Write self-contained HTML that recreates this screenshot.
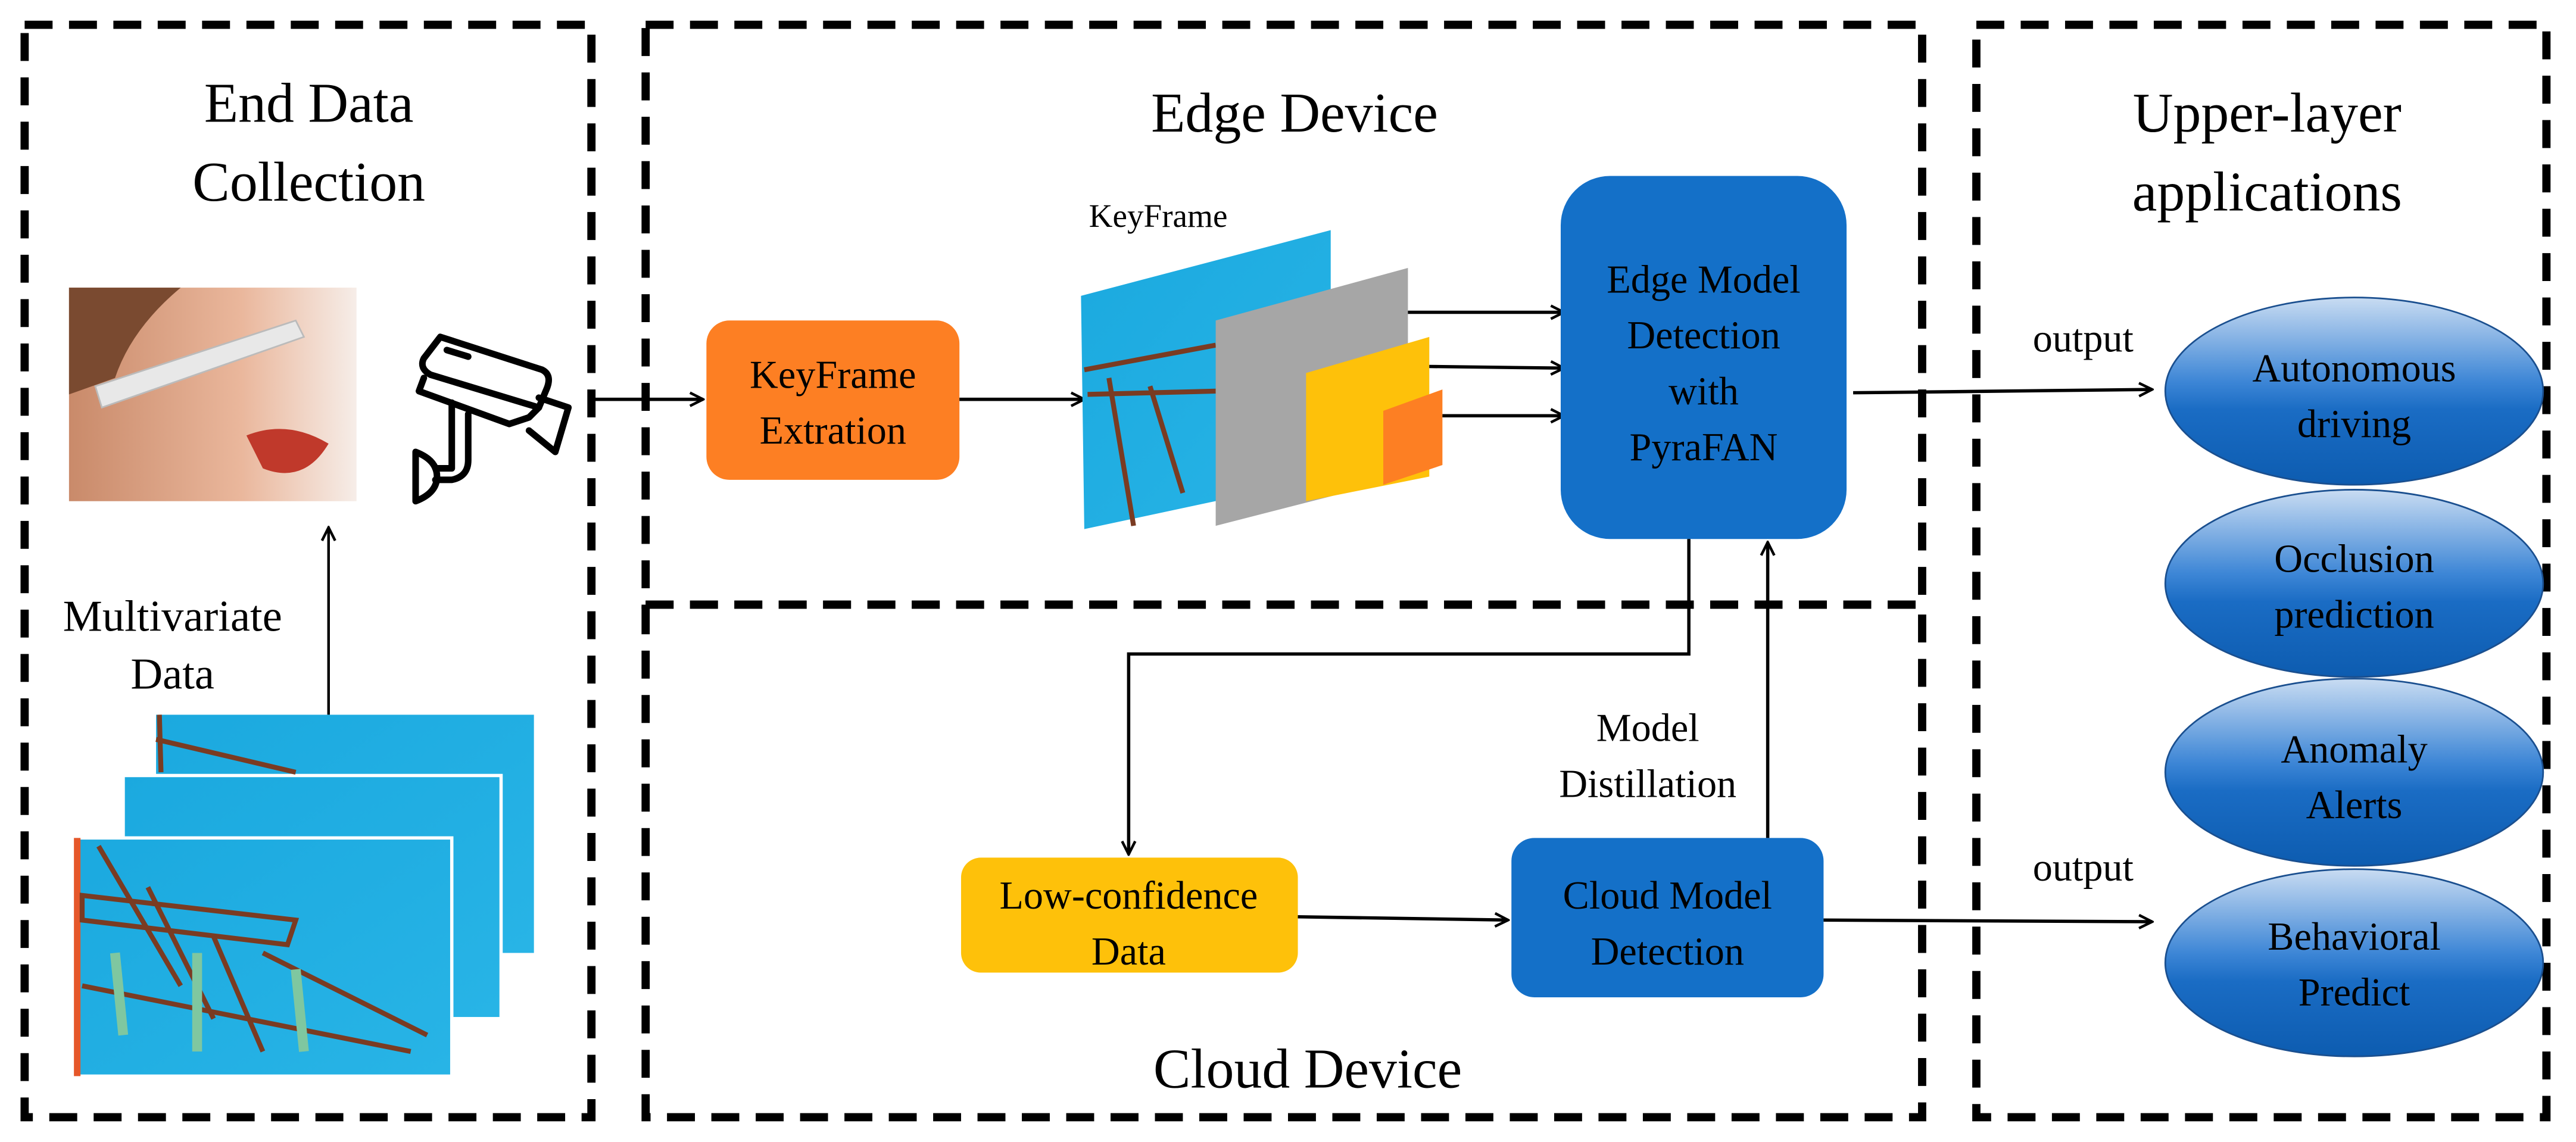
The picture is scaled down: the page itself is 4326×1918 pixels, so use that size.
<!DOCTYPE html>
<html><head><style>html,body{margin:0;padding:0;background:#fff}svg{display:block}svg text{font-family:"Liberation Serif","DejaVu Serif","Noto Serif CJK SC",serif}</style></head>
<body>
<svg width="4326" height="1918" viewBox="0 0 1568 695" xmlns="http://www.w3.org/2000/svg">
<defs>
<marker id="a" markerWidth="10" markerHeight="10" refX="9" refY="5" orient="auto" markerUnits="userSpaceOnUse"><path d="M1,1 L9,5 L1,9" fill="none" stroke="#000" stroke-width="1.6"/></marker>
<linearGradient id="g" x1="0" y1="0" x2="0" y2="1"><stop offset="0" stop-color="#c9dcf2"/><stop offset="0.45" stop-color="#3d86d6"/><stop offset="0.6" stop-color="#1a6cc4"/><stop offset="1" stop-color="#0d5cb0"/></linearGradient>
<linearGradient id="sky" x1="0" y1="0" x2="1" y2="1"><stop offset="0" stop-color="#1ba9df"/><stop offset="1" stop-color="#28b4e6"/></linearGradient>
<linearGradient id="skin" x1="0" y1="0" x2="1" y2="0"><stop offset="0" stop-color="#c98a6a"/><stop offset="0.6" stop-color="#eab79c"/><stop offset="1" stop-color="#f6ede8"/></linearGradient>
</defs>
<g fill="none" stroke="#000" stroke-width="5" stroke-dasharray="17,10">
<rect x="15" y="15" width="345" height="665"/>
<rect x="393" y="15" width="777" height="353"/>
<rect x="393" y="368" width="777" height="312"/>
<rect x="1203" y="15" width="347" height="665"/>
</g>
<g font-size="34" text-anchor="middle" fill="#000">
<text x="188" y="74">End Data</text><text x="188" y="122">Collection</text>
<text x="788" y="80">Edge Device</text>
<text x="1380" y="80">Upper-layer</text><text x="1380" y="128">applications</text>
<text x="796" y="662">Cloud Device</text>
</g>
<rect x="42" y="175" width="175" height="130" fill="url(#skin)"/>
<path d="M42,175 L110,175 Q80,200 70,230 L42,240Z" fill="#7a4a30"/>
<path d="M58,235 L180,195 L185,205 L62,248Z" fill="#e8e8e8" stroke="#bbb"/>
<path d="M150,265 Q175,255 200,270 Q185,295 160,285Z" fill="#c0392b"/>
<g fill="none" stroke="#000" stroke-width="4" stroke-linejoin="round" stroke-linecap="round">
<path d="M268,205 L330,225 Q336,228 333,236 L328,248 L262,228 Q255,224 258,218Z"/>
<path d="M258,230 L255,238 L310,258 L322,254 L328,248"/>
<path d="M328,242 L346,248 L338,275 L322,262"/>
<path d="M275,245 L275,285 L265,285"/>
<path d="M285,252 L285,280 Q285,290 275,292 L265,292"/>
<path d="M253,275 L253,305 Q266,300 266,290 Q266,280 253,275Z"/>
<path d="M272,213 L285,217"/>
</g>
<line x1="200" y1="435" x2="200" y2="321" stroke="#000" stroke-width="1.6" marker-end="url(#a)"/>
<g font-size="27" text-anchor="middle"><text x="105" y="384">Multivariate</text><text x="105" y="419">Data</text></g>
<g>
<rect x="95" y="435" width="230" height="145" fill="url(#sky)"/>
<rect x="75" y="472" width="230" height="148" fill="url(#sky)" stroke="#fff" stroke-width="2"/>
<rect x="45" y="510" width="230" height="145" fill="url(#sky)" stroke="#fff" stroke-width="2"/>
<rect x="45" y="510" width="4" height="145" fill="#e5572a"/>
<path d="M50,545 L180,560 L175,575 L50,560Z M60,515 L110,600 M90,540 L130,620 M130,570 L160,640 M160,580 L260,630 M50,600 L250,640" stroke="#7a3b22" stroke-width="3" fill="none"/>
<path d="M70,580 L75,630 M120,580 L120,640 M180,590 L185,640" stroke="#7fc7a0" stroke-width="6"/>
<path d="M95,450 L180,470 M97,435 L98,470" stroke="#7a3b22" stroke-width="3"/>
</g>
<line x1="360" y1="243" x2="428" y2="243" stroke="#000" stroke-width="2" marker-end="url(#a)"/>
<rect x="430" y="195" width="154" height="97" rx="14" fill="#fd7f23"/>
<g font-size="24" text-anchor="middle"><text x="507" y="236">KeyFrame</text><text x="507" y="270">Extration</text></g>
<line x1="584" y1="243" x2="660" y2="243" stroke="#000" stroke-width="2" marker-end="url(#a)"/>
<text x="705" y="138" font-size="20" text-anchor="middle">KeyFrame</text>
<polygon points="658,180 810,140 810,290 660,322" fill="url(#sky)"/>
<path d="M660,225 L740,210 M662,240 L740,238 M675,230 L690,320 M700,235 L720,300" stroke="#7a3b22" stroke-width="3"/>
<polygon points="740,195 857,163 857,290 740,320" fill="#a6a6a6"/>
<polygon points="795,227 870,205 870,290 795,305" fill="#fec10a"/>
<polygon points="842,250 878,237 878,283 842,295" fill="#fd7f23"/>
<g stroke="#000" stroke-width="2">
<line x1="857" y1="190" x2="952" y2="190" marker-end="url(#a)"/>
<line x1="870" y1="223" x2="952" y2="224" marker-end="url(#a)"/>
<line x1="878" y1="253" x2="952" y2="253" marker-end="url(#a)"/>
</g>
<rect x="950" y="107" width="174" height="221" rx="30" fill="#1470c8"/>
<g font-size="24" text-anchor="middle"><text x="1037" y="178">Edge Model</text><text x="1037" y="212">Detection</text><text x="1037" y="246">with</text><text x="1037" y="280">PyraFAN</text></g>
<line x1="1128" y1="239" x2="1310" y2="237" stroke="#000" stroke-width="2" marker-end="url(#a)"/>
<text x="1268" y="214" font-size="24" text-anchor="middle">output</text>
<path d="M1028,328 L1028,398 L687,398 L687,520" fill="none" stroke="#000" stroke-width="2" marker-end="url(#a)"/>
<line x1="1076" y1="510" x2="1076" y2="330" stroke="#000" stroke-width="2" marker-end="url(#a)"/>
<g font-size="24" text-anchor="middle"><text x="1003" y="451">Model</text><text x="1003" y="485">Distillation</text></g>
<rect x="585" y="522" width="205" height="70" rx="12" fill="#fec10a"/>
<g font-size="24" text-anchor="middle"><text x="687" y="553">Low-confidence</text><text x="687" y="587">Data</text></g>
<line x1="790" y1="558" x2="918" y2="560" stroke="#000" stroke-width="2" marker-end="url(#a)"/>
<rect x="920" y="510" width="190" height="97" rx="14" fill="#1470c8"/>
<g font-size="24" text-anchor="middle"><text x="1015" y="553">Cloud Model</text><text x="1015" y="587">Detection</text></g>
<line x1="1110" y1="560" x2="1310" y2="561" stroke="#000" stroke-width="2" marker-end="url(#a)"/>
<text x="1268" y="536" font-size="24" text-anchor="middle">output</text>
<g stroke="#1a4f8f" stroke-width="1" fill="url(#g)">
<ellipse cx="1433" cy="238" rx="115" ry="57"/>
<ellipse cx="1433" cy="355" rx="115" ry="57"/>
<ellipse cx="1433" cy="470" rx="115" ry="57"/>
<ellipse cx="1433" cy="586" rx="115" ry="57"/>
</g>
<g font-size="24" text-anchor="middle">
<text x="1433" y="232">Autonomous</text><text x="1433" y="266">driving</text>
<text x="1433" y="348">Occlusion</text><text x="1433" y="382">prediction</text>
<text x="1433" y="464">Anomaly</text><text x="1433" y="498">Alerts</text>
<text x="1433" y="578">Behavioral</text><text x="1433" y="612">Predict</text>
</g>
</svg>
</body></html>
